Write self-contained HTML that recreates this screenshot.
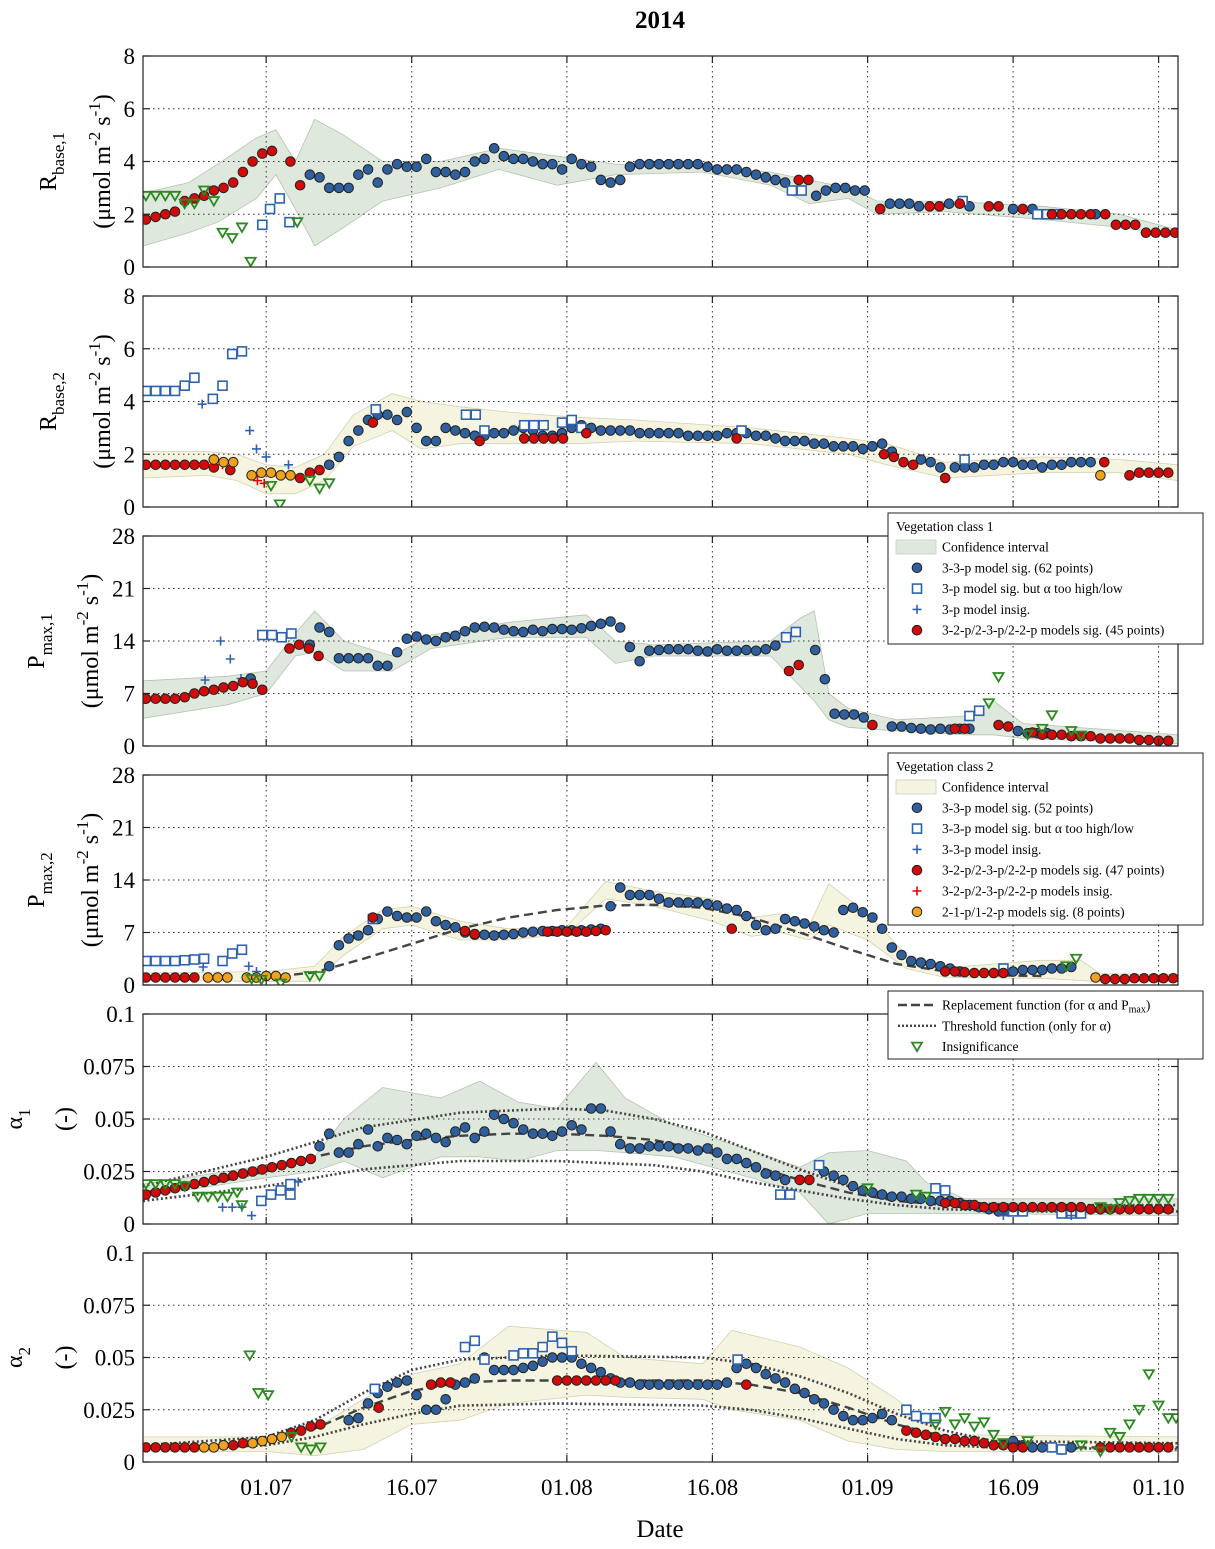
<!DOCTYPE html>
<html><head><meta charset="utf-8">
<style>
html,body{margin:0;padding:0;background:#fff;}
svg{display:block;font-family:"Liberation Serif","DejaVu Serif",serif;}
</style></head>
<body>
<svg id="chart" width="1215" height="1549" viewBox="0 0 1215 1549" xmlns="http://www.w3.org/2000/svg">
<text x="660" y="28" text-anchor="middle" font-size="25" font-weight="bold">2014</text>
<text x="660" y="1537" text-anchor="middle" font-size="25">Date</text>
</svg>
<script>
// ---------- shared axis data ----------
const xTickDays = [0, 15, 31, 46, 62, 77, 92];
const xTickLabels = ["01.07", "16.07", "01.08", "16.08", "01.09", "16.09", "01.10"];
const dayMin = -12.7, dayMax = 94.0;

// ---------- panel 1: R_base,1 ----------
const p1Blue = [[4.5,3.5,3.4,3.0,3.0,3.0,3.5,3.7,3.2,3.7,3.9,3.8,3.8,4.1,3.6,3.6,3.5,3.6,4.0,4.1,4.5,4.2,4.1,4.1,4.0,3.9,3.9,3.7,4.1,3.9,3.8,3.3,3.2,3.3,3.8,3.9,3.9,3.9,3.9,3.9,3.9,3.9,3.8,3.7,3.7,3.7,3.6,3.5,3.4,3.3,3.2],[56.7,2.7,2.9,3.0,3.0,2.9,2.9],[64.3,2.4,2.4,2.4,2.3],[70.4,2.4],[72.5,2.3],[77,2.2],[79,2.2],[80,2.0],[85.5,2.0]];
const p1Red = [[-12.4,1.8,1.9,2.0,2.1,2.5,2.6,2.7,2.9,3.0,3.2,3.6,4.0,4.3,4.4],[2.5,4.0],[3.5,3.1],[54.9,3.3,3.3],[63.3,2.2],[68.4,2.3,2.3],[71.5,2.4],[74.5,2.3,2.3],[78,2.2],[81,2.0,2.0,2.0,2.0,2.0],[86.5,2.0],[87.6,1.6,1.6,1.6],[90.7,1.3,1.3,1.3,1.3]];
const p1Sq = [[-0.4,1.6],[0.4,2.2],[1.4,2.6],[2.4,1.7],[54.2,2.9,2.9],[71.8,2.5],[79.5,2.0,2.0,2.0]];
const p1Plus = [];
const p1Orange = [];
const p1Tri = [[-12.4,2.7,2.7,2.7,2.7,2.4,2.4,2.9,2.5],[-4.5,1.3,1.1,1.5],[-1.6,0.2],[3.2,1.7]];
const p1CiDays = [-12.7,-8,-5,-1,1,3,5,8,12,18,24,30,36,45,52,56,60,63,70,80,88,94];
const p1CiHigh = [2.8,3.2,3.9,4.9,5.2,4.0,5.6,5.0,4.0,4.0,4.5,4.2,3.9,3.8,3.6,3.3,3.0,2.5,2.5,2.3,2.0,1.4];
const p1CiLow  = [0.8,1.3,1.7,2.6,3.5,2.2,0.8,1.5,2.5,3.0,3.7,3.1,3.5,3.6,3.1,2.4,2.6,2.0,2.1,1.8,1.5,1.2];

// ---------- panel 2: R_base,2 ----------
const p2Blue = [[6.5,1.6,1.9,2.5,2.9,3.3,3.5,3.5,3.3,3.6,3.0,2.5,2.5,3.0,2.9,2.8,2.7,2.7,2.8,2.8,2.9,3.0,2.9,2.7,2.7,2.8,3.0,3.1,3.0,2.9,2.9,2.9,2.9,2.8,2.8,2.8,2.8,2.8,2.7,2.7,2.7,2.7,2.8,2.8,2.8,2.7,2.7,2.6,2.5,2.5,2.5,2.4,2.4,2.3,2.3,2.3,2.2,2.3,2.4,2.1],[67.5,1.8,1.7,1.5],[71,1.5,1.5,1.5,1.6,1.6],[76,1.7,1.7,1.6,1.6,1.5,1.6,1.6,1.7,1.7,1.7]];
const p2Red = [[-12.4,1.6,1.6,1.6,1.6,1.6,1.6,1.6,1.5],[-3.7,1.4],[3.5,1.1,1.3],[5.5,1.4],[11,3.2],[22,2.5],[26.6,2.6,2.6,2.6,2.6,2.6],[33,2.8],[48.5,2.6],[63.7,2.0,1.9,1.7,1.6],[70,1.1],[86.4,1.7],[89,1.2,1.3,1.3,1.3,1.3]];
const p2Sq = [[-12.4,4.4,4.4,4.4,4.4,4.6,4.9],[-5.5,4.1,4.6,5.8,5.9],[11.3,3.7],[20.6,3.5,3.5],[22.5,2.9],[26.6,3.1,3.1,3.1],[30.5,3.2,3.3],[32.5,3.0],[49,2.9],[72,1.8]];
const p2Plus = [[-6.6,3.9],[-1.7,2.9],[-1,2.2],[0,1.9],[2.3,1.6]];
const p2RedPlus = [[-6.5,1.6,1.6,1.6],[-0.9,1.0],[-0.2,0.9]];
const p2Orange = [[-5.4,1.8,1.7,1.7],[-1.5,1.2,1.3,1.3,1.2,1.2],[86,1.2]];
const p2Tri = [[0.5,0.8],[1.4,0.1],[4.5,1.0,0.7,0.9]];
const p2CiDays = [-12.7,-6,-3,0,3,6,9,13,16,20,25,32,38,50,60,64,70,80,88,94];
const p2CiHigh = [2.1,2.1,2.0,1.6,1.5,2.0,3.5,4.3,4.0,3.8,3.6,3.4,3.3,3.0,2.6,2.4,1.7,1.9,1.8,1.6];
const p2CiLow  = [1.1,1.2,1.0,0.5,0.5,1.0,2.3,2.9,2.2,2.4,2.4,2.4,2.5,2.4,2.0,1.6,1.1,1.3,1.3,1.0];

// ---------- panel 3: P_max,1 ----------
const p3Blue = [[-1.6,9.0],[4.5,13.5,15.8,15.2,11.7,11.7,11.7,11.7,10.7,10.7,12.5,14.3,14.6,14.2,14.0,14.5,14.7,15.3,15.8,15.9,15.8,15.5,15.3,15.2,15.5,15.3,15.6,15.6,15.5,15.7,16.0,16.3,16.6,15.8,13.2,11.3,12.7,12.8,12.9,12.9,12.9,12.7,12.6,12.9,12.7,12.7,12.8,12.7,12.9,13.4],[56.6,12.8,8.9,4.3,4.2,4.2,3.8],[64.5,2.6,2.6,2.4,2.3,2.2,2.3,2.2,2.3,2.3],[77.5,2.0,1.7,1.7,1.7]];
const p3Red = [[-12.4,6.3,6.3,6.3,6.3,6.5,7.0,7.3,7.5,7.8,8.0,8.5,8.3,7.5],[2.4,13.0,13.5,13.0,12.0],[53.9,10.0,10.8],[62.5,2.8],[71,2.3,2.3],[75.5,2.8,2.6],[79,1.8,1.5,1.5,1.5,1.3,1.3,1.3,1.0,1.0,1.0,1.0,0.8,0.8,0.7,0.7]];
const p3Sq = [[-0.4,14.8,14.8,14.5,15.0],[53.6,14.5,15.2],[72.5,4.0,4.7]];
const p3Plus = [[-6.3,8.8],[-4.7,14.0],[-3.7,11.6],[-2.6,9.0]];
const p3Orange = [];
const p3Tri = [[74.5,5.7],[75.5,9.2],[78.5,1.5],[80,2.3],[81,4.1],[83,2.0],[84,1.4]];
const p3CiDays = [-12.7,-4,0,3,5,8,13,17,25,33,36,40,52,55,56.5,58,60,65,72,75,78,94];
const p3CiHigh = [8.7,9.3,10,15,18,14,12,14.8,16.5,17.5,14,13.5,14,17,18,7,5,3.5,4,6,3,1.5];
const p3CiLow  = [3.7,5.5,7,12,12.5,10,10,13,14.5,14.5,11,12,12,8,6,3.5,2.5,2,1.5,1.5,1.0,0.3];

// ---------- panel 4: P_max,2 ----------
const p4Blue = [[6.5,2.5,5.3,6.2,6.6,7.3,8.8,9.8,9.2,9.0,9.0,9.8,8.5,8.0,7.7,7.0,6.7,6.7,6.6,6.7,6.8,7.0,7.1,7.2,7.2,7.3,7.3,7.3,7.4,7.5,10.5,13.0,12.0,12.0,12.0,11.5,11.0,11.0,11.0,11.0,10.8,10.6,10.2,10.0,9.2,8.0,7.3,7.5,8.8,8.5,8.2,7.8,7.3,7.0,10.0,10.3,9.7,9.0,7.5,5.0,4.0,3.2,3.0,2.8,2.5,2.2,1.8],[76,1.8,1.8,2.0,2.0,2.0,2.2,2.2,2.4]];
const p4Red = [[-12.4,1.0,1.0,1.0,1.0,1.0,1.0],[11,9.0],[20.5,7.2,6.8],[29,7.1,7.1,7.1,7.1,7.1,7.2,7.3],[48,7.5],[70,1.8,1.8,1.7,1.6,1.6,1.6,1.6],[86.5,0.8,0.8,0.8,0.9,0.9,0.9,0.9,0.9]];
const p4Sq = [[-12.4,3.2,3.2,3.2,3.2,3.3,3.4,3.5],[-4.5,3.2,4.2,4.7],[11,8.8],[76,2.2]];
const p4Plus = [[-6.5,2.4],[-1.8,2.5],[-1,1.8]];
const p4Orange = [[-6,1.0,1.0,1.0],[-2,1.0,1.0,1.2,1.2,1.0],[85.5,1.0]];
const p4Tri = [[-1.5,0.8],[-0.5,0.7],[1.5,0.2],[4.5,1.2,1.2],[82.5,2.5],[83.5,3.5]];
const p4RepDays = [0,5,10,15,20,25,30,35,40,45,50,55,60,65,70,75,80];
const p4RepVals = [1.0,1.7,3.5,5.5,7.5,9.0,10.0,10.6,10.7,10.3,9.0,7.0,4.8,2.8,1.8,1.3,1.2];
const p4CiDays = [-12.7,0,5,8,12,15,20,25,31,35,40,46,50,53,56,58,62,66,70,80,84,86,94];
const p4CiHigh = [1.6,1.8,2.5,6.5,10.0,10.5,8.5,7.5,7.8,13.8,12.5,11.5,9.0,9.5,8.0,13.5,9.5,4.0,2.3,3.3,3.3,1.5,1.4];
const p4CiLow  = [0.6,0.5,0.5,4,7.5,8,6,6,6.8,11.5,10.5,8.5,6.5,7,6,8,6,2.2,1.0,0.9,0.6,0.4,0.5];

// ---------- panel 5: alpha_1 ----------
const p5Blue = [[5.5,0.037,0.043,0.034,0.034,0.038,0.045,0.037,0.041,0.040,0.038,0.042,0.043,0.041,0.039,0.044,0.046,0.041,0.044,0.052,0.050,0.048,0.045,0.043,0.043,0.042,0.044,0.047,0.045,0.055,0.055,0.044,0.038,0.036,0.036,0.037,0.037,0.037,0.036,0.036,0.035,0.036,0.034,0.031,0.031,0.029,0.027,0.024,0.023,0.021],[57.5,0.025,0.023,0.021,0.018,0.016,0.015,0.014,0.013,0.013,0.012,0.012,0.011,0.011,0.011,0.010,0.009,0.008,0.007,0.006,0.006]];
const p5Red = [[-12.4,0.014,0.015,0.016,0.017,0.018,0.019,0.020,0.021,0.022,0.023,0.024,0.025,0.026,0.027,0.028,0.029,0.030,0.031],[55,0.021,0.021],[70,0.010,0.010,0.009,0.009,0.008,0.008,0.008,0.008,0.008,0.008,0.008,0.008,0.008,0.008,0.008,0.007,0.007,0.007,0.007,0.007,0.007,0.007,0.007,0.007]];
const p5Sq = [[-0.5,0.011,0.014,0.016,0.019],[2.5,0.014],[53,0.014,0.014],[57,0.028],[69,0.017,0.016],[77,0.006,0.006],[82,0.005,0.005,0.005]];
const p5Plus = [[-4.5,0.008,0.008,0.008],[-1.5,0.004],[3.3,0.020],[76,0.004],[83,0.004]];
const p5Orange = [];
const p5Tri = [[-12.4,0.019,0.019,0.019,0.019,0.018],[-7,0.013,0.013,0.013,0.013,0.015],[-2.5,0.009],[62,0.017],[67,0.014],[68,0.013],[86,0.008],[87,0.007],[88,0.010,0.011,0.012,0.012,0.012,0.012]];
const p5RepDays = [-12.7,-5,0,5,10,15,20,25,30,35,40,45,50,55,60,65,70,75,94];
const p5RepVals = [0.015,0.020,0.025,0.032,0.037,0.040,0.042,0.043,0.043,0.042,0.040,0.035,0.028,0.021,0.015,0.011,0.009,0.008,0.007];
const p5ThrDays = [-12.7,0,10,20,30,35,40,45,50,55,60,65,70,80,94];
const p5ThrHigh = [0.018,0.032,0.046,0.053,0.055,0.054,0.050,0.044,0.035,0.026,0.018,0.013,0.010,0.009,0.009];
const p5ThrLow  = [0.011,0.018,0.026,0.030,0.030,0.029,0.028,0.025,0.020,0.016,0.012,0.009,0.007,0.006,0.006];
const p5CiDays = [-12.7,0,5,8,12,18,22,26,30,34,37,42,50,55,58,62,66,68,72,94];
const p5CiHigh = [0.019,0.028,0.032,0.050,0.065,0.060,0.068,0.058,0.055,0.077,0.060,0.047,0.035,0.027,0.034,0.035,0.030,0.020,0.012,0.012];
const p5CiLow  = [0.013,0.022,0.025,0.030,0.022,0.032,0.032,0.030,0.035,0.035,0.034,0.032,0.022,0.015,0.000,0.005,0.005,0.005,0.005,0.004];

// ---------- panel 6: alpha_2 ----------
const p6Blue = [[8.5,0.020,0.021,0.028,0.033,0.036,0.038,0.039,0.032,0.025,0.025,0.030,0.037,0.038,0.040,0.050,0.044,0.044,0.044,0.045,0.046,0.048,0.050,0.050,0.050,0.047,0.045,0.043,0.040,0.038,0.038,0.037,0.037,0.037,0.037,0.037,0.037,0.037,0.037,0.037,0.038,0.045,0.047,0.045,0.042,0.040,0.038,0.035,0.033,0.030,0.028,0.025,0.022,0.020,0.020,0.021,0.023,0.020],[77,0.010,0.008,0.007,0.007,0.007,0.006,0.007]];
const p6Red = [[-12.4,0.007,0.007,0.007,0.007,0.007,0.007],[-4.4,0.008,0.008,0.009],[2.6,0.014,0.015,0.017,0.018],[11.6,0.026],[17,0.037,0.038,0.038],[30,0.039,0.039,0.039,0.039,0.039,0.039,0.039],[49.5,0.037],[66,0.015,0.014,0.013,0.012,0.011,0.011,0.010,0.010,0.009,0.008,0.008,0.007,0.007],[86,0.007,0.007,0.007,0.007,0.007,0.007,0.007,0.007]];
const p6Sq = [[11.2,0.035],[20.5,0.055,0.058],[22.5,0.049],[25.5,0.051,0.052,0.052,0.055,0.060,0.057,0.053],[48.6,0.049],[66,0.025,0.022,0.021,0.021],[81,0.007,0.006]];
const p6Plus = [];
const p6Orange = [[-6.4,0.007,0.007,0.008],[-1.4,0.009,0.010,0.011,0.012]];
const p6Tri = [[-1.7,0.051],[-0.8,0.033],[0.2,0.032],[2.6,0.012],[3.6,0.007,0.006,0.007],[69,0.018],[70,0.024],[71,0.018],[72,0.021],[73,0.017],[74,0.019],[75,0.013],[76,0.009],[78.5,0.010],[84,0.008],[86,0.005],[87,0.014],[88,0.012],[89,0.018],[90,0.025],[91,0.042],[92,0.027],[93,0.021],[93.8,0.021]];
const p6RepDays = [-12.7,-5,0,5,10,15,20,25,30,40,45,50,55,60,65,70,75,80,94];
const p6RepVals = [0.007,0.008,0.011,0.016,0.026,0.034,0.038,0.039,0.039,0.039,0.039,0.037,0.033,0.026,0.018,0.012,0.009,0.007,0.007];
const p6ThrDays = [-12.7,0,5,10,15,20,30,45,50,55,60,65,70,75,94];
const p6ThrHigh = [0.008,0.012,0.020,0.033,0.044,0.049,0.051,0.050,0.047,0.041,0.033,0.023,0.015,0.010,0.009];
const p6ThrLow  = [0.006,0.008,0.012,0.018,0.023,0.027,0.028,0.027,0.025,0.021,0.016,0.011,0.008,0.007,0.006];
const p6CiDays = [-12.7,0,5,10,15,20,25,33,37,45,48,55,60,65,70,94];
const p6CiHigh = [0.012,0.012,0.016,0.030,0.042,0.047,0.065,0.062,0.050,0.047,0.063,0.055,0.045,0.030,0.013,0.012];
const p6CiLow  = [0.005,0.005,0.003,0.006,0.018,0.020,0.028,0.032,0.031,0.030,0.025,0.020,0.010,0.006,0.005,0.005];

// ---------- rendering ----------
const NS = "http://www.w3.org/2000/svg";
const svg = document.getElementById("chart");
const X0 = 143, X1 = 1178;
function xs(d){ return X0 + (d - dayMin) / (dayMax - dayMin) * (X1 - X0); }
function mk(tag, attrs, parent){ const e = document.createElementNS(NS, tag); for (const k in attrs) e.setAttribute(k, attrs[k]); (parent||svg).appendChild(e); return e; }
function expand(runs){ const out=[]; runs.forEach(r=>{ for(let i=1;i<r.length;i++) out.push([r[0]+i-1, r[i]]); }); return out; }

const BLUE="#2f5f9c", RED="#d10a0a", ORANGE="#f0a21e", GREEN="#2a8a1e";

function drawMarker(g, type, x, y){
  let e;
  if (type==="blue"||type==="red"||type==="orange"){
    e = mk("circle",{cx:x,cy:y,r:4.8,fill:type==="blue"?BLUE:type==="red"?RED:ORANGE,stroke:"#222","stroke-width":1},g);
  } else if (type==="sq"){
    e = mk("rect",{x:x-4.5,y:y-4.5,width:9,height:9,fill:"#fff",stroke:"#2e62b0","stroke-width":1.6},g);
  } else if (type==="plus"||type==="redplus"){
    e = mk("path",{d:`M${x-4.5},${y}H${x+4.5}M${x},${y-4.5}V${y+4.5}`,stroke:type==="plus"?"#2e62b0":"#e00000","stroke-width":1.6,fill:"none"},g);
  } else {
    e = mk("path",{d:`M${x-5},${y-4}L${x+5},${y-4}L${x},${y+4.5}Z`,fill:"none",stroke:GREEN,"stroke-width":1.8},g);
  }
  
  
}

function bandPath(days, hi, lo, ys){
  let d = "";
  days.forEach((dd,i)=>{ d += (i?"L":"M") + xs(dd).toFixed(1) + "," + ys(hi[i]).toFixed(1); });
  for (let i=days.length-1;i>=0;i--) d += "L" + xs(days[i]).toFixed(1) + "," + ys(lo[i]).toFixed(1);
  return d + "Z";
}
function linePath(days, vals, ys){
  return days.map((dd,i)=>(i?"L":"M")+xs(dd).toFixed(1)+","+ys(vals[i]).toFixed(1)).join("");
}

function panel(o){
  const g = mk("g",{});
  
  
  const top=o.top, h=o.h, bot=top+h;
  const ys = v => bot - v/o.max*h;
  const clipId = "clip-"+o.name;
  const cp = mk("clipPath",{id:clipId},g); mk("rect",{x:X0,y:top,width:X1-X0,height:h},cp);
  const inner = mk("g",{"clip-path":`url(#${clipId})`},g);
  // band
  const band = mk("path",{d:bandPath(o.ciDays,o.ciHigh,o.ciLow,ys),fill:o.bandFill,stroke:o.bandStroke,"stroke-width":0.8},inner);
  
  
  // grid
  xTickDays.forEach(d=>{ const l=mk("line",{x1:xs(d),x2:xs(d),y1:top,y2:bot,stroke:"#333","stroke-width":1,"stroke-dasharray":"1.5,3.5"},inner);
      });
  o.ticks.forEach(v=>{ const l=mk("line",{x1:X0,x2:X1,y1:ys(v),y2:ys(v),stroke:"#333","stroke-width":1,"stroke-dasharray":"1.5,3.5"},inner);
      });
  // functions
  if (o.thrDays){
    [o.thrHigh,o.thrLow].forEach(arr=>{ const p=mk("path",{d:linePath(o.thrDays,arr,ys),fill:"none",stroke:"#444","stroke-width":2.6,"stroke-dasharray":"2,2.5"},inner);
        });
  }
  if (o.repDays){
    const p=mk("path",{d:linePath(o.repDays,o.repVals,ys),fill:"none",stroke:"#444","stroke-width":2.4,"stroke-dasharray":"9,5"},inner);
     
  }
  // markers
  const order = [["blue",o.blue],["sq",o.sq],["plus",o.plus],["red",o.red],["redplus",o.redplus||[]],["orange",o.orange],["tri",o.tri]];
  order.forEach(([t,runs])=>{ expand(runs).forEach(([d,v])=>drawMarker(inner,t,xs(d),ys(v))); });
  // frame
  const fr = mk("rect",{x:X0,y:top,width:X1-X0,height:h,fill:"none",stroke:"#222","stroke-width":1.2},g);
   
  // y ticks
  o.ticks.forEach((v,i)=>{
    mk("line",{x1:X0,x2:X0+7,y1:ys(v),y2:ys(v),stroke:"#222","stroke-width":1.2},g);
    mk("line",{x1:X1,x2:X1-7,y1:ys(v),y2:ys(v),stroke:"#222","stroke-width":1.2},g);
    const t = mk("text",{x:X0-8,y:ys(v)+8,"text-anchor":"end","font-size":23},g);
    t.textContent = o.tickLabels[i];
     
  });
  xTickDays.forEach(d=>{ mk("line",{x1:xs(d),x2:xs(d),y1:bot,y2:bot-7,stroke:"#222","stroke-width":1.2},g); mk("line",{x1:xs(d),x2:xs(d),y1:top,y2:top+7,stroke:"#222","stroke-width":1.2},g); });
  // y label
  const cy = top + h/2;
  const yl = mk("text",{transform:`translate(${o.lx1},${cy}) rotate(-90)`,"text-anchor":"middle","font-size":24},g);
   
  yl.innerHTML = o.label1;
  const yl2 = mk("text",{transform:`translate(${o.lx2},${cy}) rotate(-90)`,"text-anchor":"middle","font-size":24},g);
   
  yl2.innerHTML = o.label2;
}

const unit = '(μmol m<tspan dy="-10" font-size="17">-2</tspan><tspan dy="10"> s</tspan><tspan dy="-10" font-size="17">-1</tspan><tspan dy="10">)</tspan>';
const G1f="#dfe8dd", G1s="#b5c4b2", G2f="#f5f4e0", G2s="#d4d2b0";

panel({name:"panel-rbase1",top:56,h:211,max:8,ticks:[0,2,4,6,8],tickLabels:["0","2","4","6","8"],
  blue:p1Blue,red:p1Red,sq:p1Sq,plus:p1Plus,orange:p1Orange,tri:p1Tri,ciDays:p1CiDays,ciHigh:p1CiHigh,ciLow:p1CiLow,bandFill:G1f,bandStroke:G1s,
  lx1:56,lx2:110,label1:'R<tspan dy="8" font-size="17">base,1</tspan>',label2:unit});
panel({name:"panel-rbase2",top:296,h:211,max:8,ticks:[0,2,4,6,8],tickLabels:["0","2","4","6","8"],
  blue:p2Blue,red:p2Red,sq:p2Sq,plus:p2Plus,redplus:p2RedPlus,orange:p2Orange,tri:p2Tri,ciDays:p2CiDays,ciHigh:p2CiHigh,ciLow:p2CiLow,bandFill:G2f,bandStroke:G2s,
  lx1:56,lx2:110,label1:'R<tspan dy="8" font-size="17">base,2</tspan>',label2:unit});
panel({name:"panel-pmax1",top:536,h:210,max:28,ticks:[0,7,14,21,28],tickLabels:["0","7","14","21","28"],
  blue:p3Blue,red:p3Red,sq:p3Sq,plus:p3Plus,orange:p3Orange,tri:p3Tri,ciDays:p3CiDays,ciHigh:p3CiHigh,ciLow:p3CiLow,bandFill:G1f,bandStroke:G1s,
  lx1:44,lx2:98,label1:'P<tspan dy="8" font-size="17">max,1</tspan>',label2:unit});
panel({name:"panel-pmax2",top:775,h:210,max:28,ticks:[0,7,14,21,28],tickLabels:["0","7","14","21","28"],
  blue:p4Blue,red:p4Red,sq:p4Sq,plus:p4Plus,orange:p4Orange,tri:p4Tri,ciDays:p4CiDays,ciHigh:p4CiHigh,ciLow:p4CiLow,bandFill:G2f,bandStroke:G2s,
  repDays:p4RepDays,repVals:p4RepVals,
  lx1:44,lx2:98,label1:'P<tspan dy="8" font-size="17">max,2</tspan>',label2:unit});
panel({name:"panel-alpha1",top:1014,h:210,max:0.1,ticks:[0,0.025,0.05,0.075,0.1],tickLabels:["0","0.025","0.05","0.075","0.1"],
  blue:p5Blue,red:p5Red,sq:p5Sq,plus:p5Plus,orange:p5Orange,tri:p5Tri,ciDays:p5CiDays,ciHigh:p5CiHigh,ciLow:p5CiLow,bandFill:G1f,bandStroke:G1s,
  repDays:p5RepDays,repVals:p5RepVals,thrDays:p5ThrDays,thrHigh:p5ThrHigh,thrLow:p5ThrLow,
  lx1:22,lx2:72,label1:'α<tspan dy="8" font-size="17">1</tspan>',label2:'(-)'});
panel({name:"panel-alpha2",top:1253,h:209,max:0.1,ticks:[0,0.025,0.05,0.075,0.1],tickLabels:["0","0.025","0.05","0.075","0.1"],
  blue:p6Blue,red:p6Red,sq:p6Sq,plus:p6Plus,orange:p6Orange,tri:p6Tri,ciDays:p6CiDays,ciHigh:p6CiHigh,ciLow:p6CiLow,bandFill:G2f,bandStroke:G2s,
  repDays:p6RepDays,repVals:p6RepVals,thrDays:p6ThrDays,thrHigh:p6ThrHigh,thrLow:p6ThrLow,
  lx1:22,lx2:72,label1:'α<tspan dy="8" font-size="17">2</tspan>',label2:'(-)'});

// x tick labels
xTickDays.forEach((d,i)=>{
  const t = mk("text",{x:xs(d),y:1495,"text-anchor":"middle","font-size":23});
  t.textContent = xTickLabels[i];
  
  
});

// legends
function legend(name, x, y, w, h, title, rows){
  const g = mk("g",{});
  
  
  mk("rect",{x:x,y:y,width:w,height:h,fill:"#fff",stroke:"#222","stroke-width":1},g);
  let ry = y + 14;
  if (title){ const t=mk("text",{x:x+8,y:ry+4,"font-size":13.5},g); t.textContent=title; ry += 20; }
  rows.forEach(r=>{
    const [type,label,fill] = r;
    if (type==="band") mk("rect",{x:x+8,y:ry-7,width:40,height:14,fill:fill,stroke:"#ccc","stroke-width":0.8},g);
    else if (type==="dash") mk("line",{x1:x+10,x2:x+48,y1:ry,y2:ry,stroke:"#444","stroke-width":2.4,"stroke-dasharray":"9,4"},g);
    else if (type==="dot") mk("line",{x1:x+10,x2:x+48,y1:ry,y2:ry,stroke:"#444","stroke-width":2.4,"stroke-dasharray":"2,2"},g);
    else drawMarker(g,type,x+29,ry);
    const t=mk("text",{x:x+54,y:ry+4.5,"font-size":13.5},g);
    t.innerHTML=label;
    
    
    ry += 20.8;
  });
}
legend("legend-class1",888,513,315,131,"Vegetation class 1",[
  ["band","Confidence interval",G1f],["blue","3-3-p model sig. (62 points)"],["sq","3-p model sig. but α too high/low"],
  ["plus","3-p model insig."],["red","3-2-p/2-3-p/2-2-p models sig. (45 points)"]]);
legend("legend-class2",888,753,315,172,"Vegetation class 2",[
  ["band","Confidence interval",G2f],["blue","3-3-p model sig. (52 points)"],["sq","3-3-p model sig. but α too high/low"],
  ["plus","3-3-p model insig."],["red","3-2-p/2-3-p/2-2-p models sig. (47 points)"],["redplus","3-2-p/2-3-p/2-2-p models insig."],
  ["orange","2-1-p/1-2-p models sig. (8 points)"]]);
legend("legend-functions",888,991,315,68,null,[
  ["dash",'Replacement function (for α and P<tspan font-size="10" dy="3">max</tspan><tspan dy="-3">)</tspan>'],["dot","Threshold function (only for α)"],["tri","Insignificance"]]);
</script>
</body></html>
